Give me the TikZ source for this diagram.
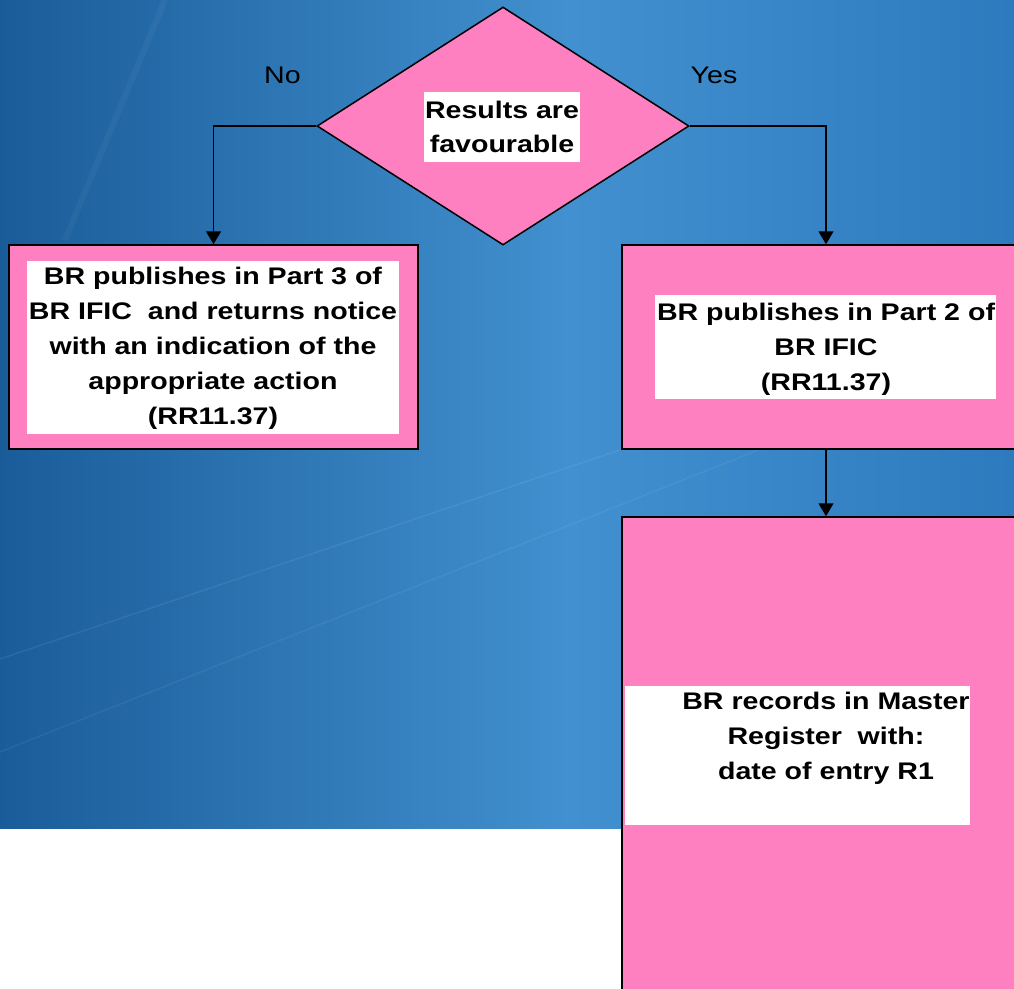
\documentclass[tikz,border=0pt]{standalone}
\usepackage{fontspec}
\setmainfont{Liberation Sans}[FakeStretch=1.19]
\usetikzlibrary{shapes.geometric,arrows.meta}
\definecolor{pinkbox}{RGB}{255,128,192}
\definecolor{bgleft}{RGB}{26,92,153}
\definecolor{bgmid}{RGB}{66,144,207}
\definecolor{bgright}{RGB}{45,123,190}
\pgfdeclarehorizontalshading{bgshade}{100bp}{color(0bp)=(bgleft); color(25bp)=(bgleft); color(53bp)=(bgmid); color(75bp)=(bgright); color(100bp)=(bgright)}
\begin{document}
\begin{tikzpicture}[x=1pt,y=-1pt,
  conn/.style={draw=black,line width=1.5pt,-{Triangle[length=13pt,width=15pt]}},
  pbox/.style={draw=black,line width=1.5pt,fill=pinkbox,inner sep=0pt},
  wbox/.style={fill=white,inner sep=0pt},
  txt/.style={font=\bfseries\fontsize{24}{35}\selectfont,align=center,inner sep=0pt},
  lbl/.style={font=\fontsize{24}{29}\selectfont,inner sep=0pt}]
\useasboundingbox (0,0) rectangle (1014,988);
\clip (0,0) rectangle (1014,988);
% background
\shade[shading=bgshade] (0,0) rectangle (1014,828);
\draw[white,opacity=0.07,line width=1.5pt] (0,659) -- (1014,317);
\draw[white,opacity=0.06,line width=1.5pt] (0,752) -- (1014,348);
\draw[white,opacity=0.04,line width=6pt] (165,0) -- (65,240);
% decision
\node[pbox,diamond,minimum width=372pt,minimum height=238pt] (dia) at (503,126) {};
\node[wbox,minimum width=156pt,minimum height=70pt] (diaw) at (502,127) {};
\node[txt,font=\bfseries\fontsize{24}{34}\selectfont] (diat) at (502,126.5) {Results are\\favourable};
% left box
\node[pbox,minimum width=409pt,minimum height=204pt] (left) at (213.5,347) {};
\node[wbox,minimum width=372pt,minimum height=173pt] (leftw) at (213,347.5) {};
\node[txt] (leftt) at (213,348) {BR publishes in Part 3 of\\BR IFIC\ \ and returns notice\\with an indication of the\\appropriate action\\(RR11.37)};
% right box
\node[pbox,minimum width=408pt,minimum height=204pt] (right) at (826,347) {};
\node[wbox,minimum width=341pt,minimum height=104pt] (rightw) at (825.5,347) {};
\node[txt] (rightt) at (826,349) {BR publishes in Part 2 of\\BR IFIC\\(RR11.37)};
% bottom box
\node[pbox,minimum width=408pt,minimum height=583pt] (bottom) at (826,808.5) {};
\node[wbox,minimum width=345pt,minimum height=139pt] (bottomw) at (797.5,755.5) {};
\node[txt] (bottomt) at (826,738.5) {BR records in Master\\Register\ \ with:\\date of entry R1};
% labels
\node[lbl,anchor=base] (no) at (282.5,83) {No};
\node[lbl,anchor=base] (yes) at (714,83) {Yes};
% connectors
\draw[conn] (dia.west) -| (left.north);
\draw[conn] (dia.east) -| (right.north);
\draw[conn] (right.south) -- (bottom.north);
\end{tikzpicture}
\end{document}
